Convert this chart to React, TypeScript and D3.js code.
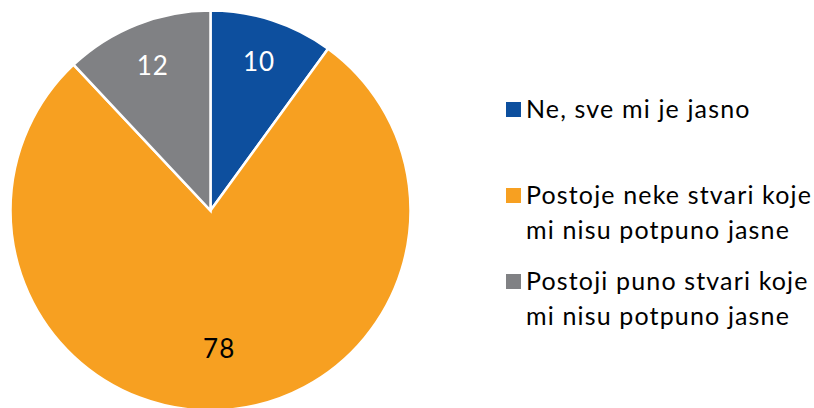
import React from "react";
import * as d3 from "d3";

const categories = [
  "Ne, sve mi je jasno",
  "Postoje neke stvari koje mi nisu potpuno jasne",
  "Postoji puno stvari koje mi nisu potpuno jasne",
];
const values = [10, 78, 12];
const legendLines = [
  ["Ne, sve mi je jasno"],
  ["Postoje neke stvari koje", "mi nisu potpuno jasne"],
  ["Postoji puno stvari koje", "mi nisu potpuno jasne"],
];
const colors = ["#0D4F9E", "#F7A021", "#808184"];
const labelColors = ["#ffffff", "#000000", "#ffffff"];

const FONT = "Lato, 'Open Sans', sans-serif";

export default function App() {
  const W = 814;
  const H = 408;
  const cx = 210.5;
  const cy = 210.5;
  const r = 200;

  const pie = d3
    .pie<number>()
    .sort(null)
    .value((d) => d)
    .startAngle(0)
    .endAngle(2 * Math.PI);
  const arcs = pie(values);
  const arc = d3.arc<d3.PieArcDatum<number>>().innerRadius(0).outerRadius(r);

  const labelPos = (d: d3.PieArcDatum<number>) => {
    const big = d.endAngle - d.startAngle > Math.PI;
    const lr = big ? 0.69 * r : 0.785 * r;
    const a = (d.startAngle + d.endAngle) / 2;
    return [lr * Math.sin(a), -lr * Math.cos(a)];
  };

  const legendY = d3.scalePoint<number>().domain([0, 1, 2]).range([118, 290]);

  return (
    <svg
      width={W}
      height={H}
      style={{ position: "absolute", left: 0, top: 0, display: "block" }}
    >
      <rect width={W} height={H} fill="#ffffff" />
      <g transform={`translate(${cx},${cy})`}>
        {arcs.map((d, i) => (
          <path
            key={i}
            d={arc(d) || ""}
            fill={colors[i]}
            stroke="#ffffff"
            strokeWidth={2.5}
            strokeLinejoin="miter"
          />
        ))}
        {arcs.map((d, i) => {
          const [x, y] = labelPos(d);
          return (
            <text
              key={"l" + i}
              x={x}
              y={y}
              textAnchor="middle"
              dominantBaseline="central"
              fontFamily={FONT}
              fontSize={26}
              letterSpacing={1}
              fill={labelColors[i]}
            >
              {values[i]}
            </text>
          );
        })}
      </g>
      <g>
        {categories.map((c, i) => {
          const by = legendY(i) as number;
          return (
            <g key={c}>
              <rect x={506} y={by - 16} width={15} height={15} fill={colors[i]} />
              {legendLines[i].map((line, j) => (
                <text
                  key={j}
                  x={526}
                  y={by + j * 35}
                  fontFamily={FONT}
                  fontSize={25}
                  letterSpacing={1.15}
                  fill="#000000"
                >
                  {line}
                </text>
              ))}
            </g>
          );
        })}
      </g>
    </svg>
  );
}
